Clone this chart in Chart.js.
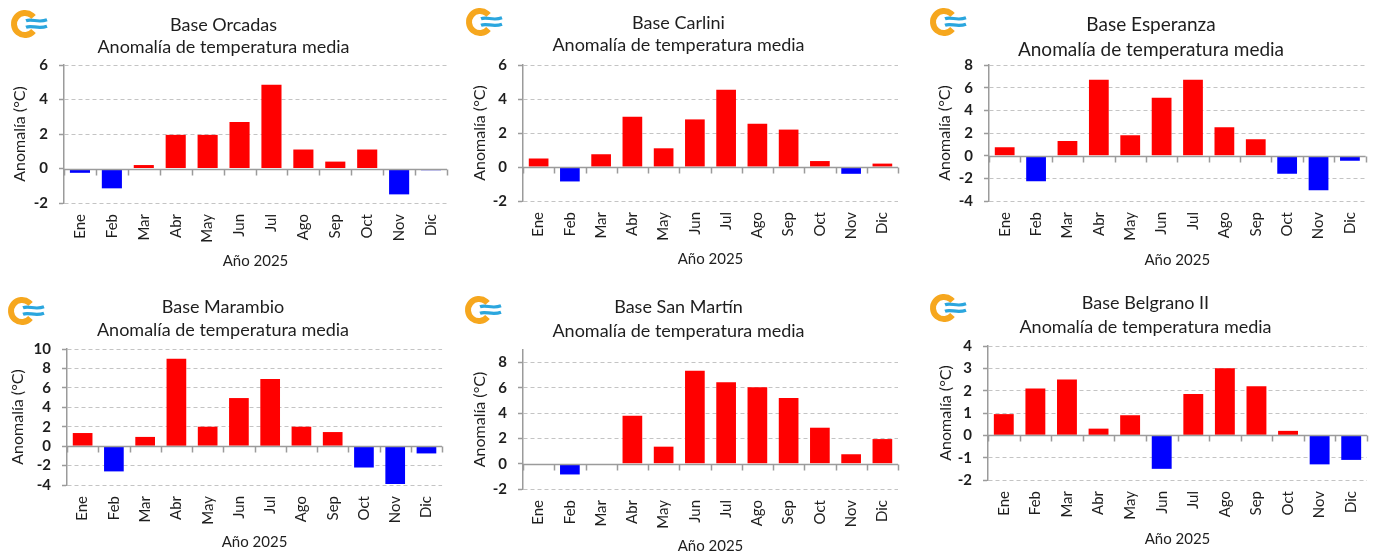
<!DOCTYPE html>
<html>
<head>
<meta charset="utf-8">
<script src="https://cdn.jsdelivr.net/npm/chart.js"></script>
<style>
  body { margin: 0; background: #fff; width: 1393px; height: 555px; overflow: hidden; position: relative; }
  canvas { position: absolute; }
</style>
</head>
<body>
<script>
const meses = ['Ene', 'Feb', 'Mar', 'Abr', 'May', 'Jun', 'Jul', 'Ago', 'Sep', 'Oct', 'Nov', 'Dic']
const bases = ['Base Orcadas', 'Base Carlini', 'Base Esperanza', 'Base Marambio', 'Base San Martín', 'Base Belgrano II']

// anomalias de temperatura media (°C), año 2025
const anomOrcadas   = [-0.25, -1.15, 0.2, 1.95, 1.95, 2.7, 4.85, 1.1, 0.4, 1.1, -1.5, -0.1]
const anomCarlini   = [0.5, -0.85, 0.75, 2.95, 1.1, 2.8, 4.55, 2.55, 2.2, 0.35, -0.4, 0.2]
const anomEsperanza = [0.75, -2.25, 1.3, 6.7, 1.8, 5.1, 6.7, 2.5, 1.45, -1.6, -3.05, -0.45]
const anomMarambio  = [1.35, -2.6, 0.95, 9.0, 2.0, 4.95, 6.9, 2.0, 1.45, -2.2, -3.9, -0.75]
const anomSanMartin = [null, -0.85, null, 3.8, 1.35, 7.35, 6.45, 6.05, 5.2, 2.85, 0.75, 1.95]
const anomBelgrano  = [0.95, 2.1, 2.5, 0.3, 0.9, -1.5, 1.85, 3.0, 2.2, 0.2, -1.3, -1.1]

const series = [anomOrcadas, anomCarlini, anomEsperanza, anomMarambio, anomSanMartin, anomBelgrano]

// eje Y de cada grafico
const minY  = [-2, -2, -4, -4, -2, -2]
const maxY  = [6, 6, 8, 10, 9, 4]
const pasoY = [2, 2, 2, 2, 2, 1]

// ubicacion de cada grafico en la pagina
const cajas = [
  { x: 0,   y: 0,   w: 498, h: 274, lh: 22, tTop: 14,   tBot: 7,   ejeX: 71, der: 51, yTit: 20, logo: [25, 24] },
  { x: 459, y: 0,   w: 458, h: 272, lh: 22, tTop: 12,   tBot: 9,   ejeX: 71, der: 19, yTit: 21, logo: [21, 22] },
  { x: 925, y: 0,   w: 454, h: 273, lh: 25, tTop: 12.5, tBot: 2.5, ejeX: 72, der: 2,  yTit: 20, logo: [19, 22] },
  { x: 3,   y: 280, w: 453, h: 275, lh: 23, tTop: 15.5, tBot: 7.5, ejeX: 70, der: 13, yTit: 15, logo: [19, 31] },
  { x: 459, y: 280, w: 459, h: 279, lh: 24, tTop: 15,   tBot: 7,   ejeX: 70, der: 20, yTit: 21, logo: [20, 30] },
  { x: 924, y: 280, w: 481, h: 272, lh: 24, tTop: 11,   tBot: 7,   ejeX: 72, der: 38, yTit: 22, logo: [20, 28] }
]

const fuente = 'Lato, "Open Sans", sans-serif'
const gris = '#9b9b9b'

function dibujarLogo(ctx, cx, cy) {
  ctx.save()
  ctx.lineWidth = 6
  ctx.strokeStyle = '#F6A71E'
  ctx.beginPath()
  ctx.arc(cx, cy, 11, 0.22 * Math.PI, 1.78 * Math.PI)
  ctx.stroke()
  ctx.strokeStyle = '#2BA6DE'
  ctx.lineWidth = 3.2
  for (const dy of [-3.2, 3.2]) {
    ctx.beginPath()
    ctx.moveTo(cx + 1, cy + dy)
    ctx.bezierCurveTo(cx + 7, cy + dy - 2.5, cx + 13, cy + dy + 2.5, cx + 22, cy + dy - 1)
    ctx.stroke()
  }
  ctx.restore()
}

// linea del cero con sus marcas entre meses
const ejeCero = {
  id: 'ejeCero',
  afterDatasetsDraw(chart) {
    const { ctx, chartArea, scales: { x, y } } = chart
    const y0 = Math.round(y.getPixelForValue(0)) + 0.5
    ctx.save()
    ctx.strokeStyle = gris
    ctx.lineWidth = 1.5
    ctx.beginPath()
    ctx.moveTo(chartArea.left, y0)
    ctx.lineTo(chartArea.right, y0)
    for (let i = 0; i <= meses.length; i++) {
      const px = Math.round(x.getPixelForValue(i - 0.5)) + 0.5
      ctx.moveTo(px, y0)
      ctx.lineTo(px, y0 + 6)
    }
    ctx.stroke()
    ctx.restore()
  },
  afterDraw(chart) {
    const c = chart.options.plugins.ejeCero
    dibujarLogo(chart.ctx, c.logo[0], c.logo[1])
  }
}

series.forEach((datos, i) => {
  const caja = cajas[i]
  const canvas = document.createElement('canvas')
  canvas.width = caja.w
  canvas.height = caja.h
  canvas.style.left = caja.x + 'px'
  canvas.style.top = caja.y + 'px'
  document.body.appendChild(canvas)

  new Chart(canvas, {
    type: 'bar',
    data: {
      labels: meses,
      datasets: [{
        data: datos,
        backgroundColor: ctx => ctx.raw < 0 ? '#0000FF' : '#FF0000',
        borderWidth: 0,
        categoryPercentage: 1,
        barPercentage: 0.63
      }]
    },
    plugins: [ejeCero],
    options: {
      responsive: false,
      animation: false,
      devicePixelRatio: 1,
      layout: { padding: { left: 0, right: caja.der, top: 0, bottom: 0 } },
      plugins: {
        legend: { display: false },
        tooltip: { enabled: false },
        ejeCero: { logo: caja.logo },
        title: {
          display: true,
          text: [bases[i], 'Anomalía de temperatura media'],
          color: '#1e1e1e',
          font: { family: fuente, size: i === 2 ? 19 : 18, weight: 'normal', lineHeight: caja.lh + 'px' },
          padding: { top: caja.tTop, bottom: caja.tBot }
        }
      },
      scales: {
        x: {
          grid: { display: false, drawTicks: false },
          border: { display: false },
          ticks: {
            autoSkip: false,
            maxRotation: 90,
            minRotation: 90,
            padding: 11,
            color: '#1e1e1e',
            font: { family: fuente, size: 15 }
          },
          title: {
            display: true,
            text: 'Año 2025',
            color: '#1e1e1e',
            font: { family: fuente, size: 15 },
            padding: { top: 0, bottom: 3.4 }
          },
          afterFit: s => { s.height = caja.ejeX }
        },
        y: {
          min: minY[i],
          max: maxY[i],
          ticks: {
            stepSize: pasoY[i],
            autoSkip: false,
            padding: 11,
            color: '#1e1e1e',
            font: { family: fuente, size: 15, weight: 'bold' }
          },
          afterBuildTicks: s => {
            s.ticks = s.ticks.filter(t => (t.value - minY[i]) % pasoY[i] === 0)
          },
          grid: {
            color: ctx => ctx.tick && ctx.tick.value === 0 ? 'rgba(0,0,0,0)' : '#c4c4c4',
            lineWidth: 1,
            tickLength: 5,
            tickColor: gris,
            tickWidth: 1.5
          },
          border: {
            display: true,
            color: gris,
            width: 1.5,
            dash: ctx => ctx.tick && ctx.tick.value !== 0 ? [4, 3] : []
          },
          title: {
            display: true,
            text: 'Anomalía (°C)',
            color: '#1e1e1e',
            font: { family: fuente, size: 16 },
            padding: { top: caja.yTit - 9.6, bottom: 0 }
          },
          afterFit: s => { s.width = 64 }
        }
      }
    }
  })
})
</script>
</body>
</html>
